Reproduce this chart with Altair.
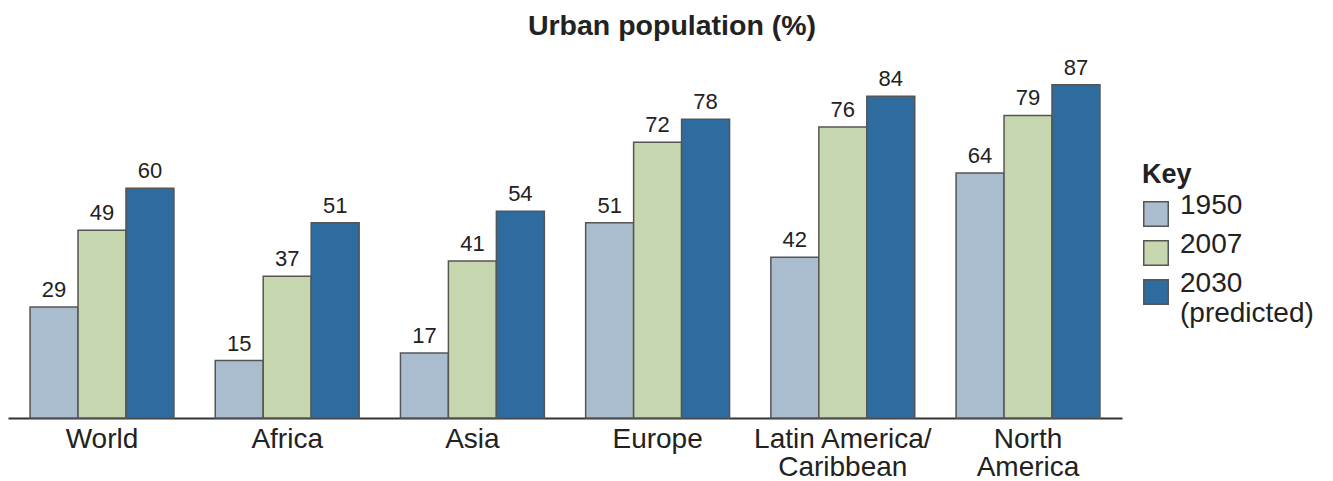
import altair as alt
import pandas as pd

regions = ["World", "Africa", "Asia", "Europe", "Latin America/Caribbean", "North America"]
years = ["1950", "2007", "2030"]
v1950 = [29, 15, 17, 51, 42, 64]
v2007 = [49, 37, 41, 72, 76, 79]
v2030 = [60, 51, 54, 78, 84, 87]
colors = ["#aabdcf", "#c6d6ae", "#2e6b9e"]

rows = []
for yr, vals in zip(years, [v1950, v2007, v2030]):
    for r, v in zip(regions, vals):
        rows.append({"region": r, "year": yr, "value": v})
df = pd.DataFrame(rows)

FONT = "Liberation Sans"
label_expr = ("datum.label == 'Latin America/Caribbean' ? ['Latin America/', 'Caribbean'] : "
              "datum.label == 'North America' ? ['North', 'America'] : datum.label")

x = alt.X(
    "region:N", sort=regions,
    scale=alt.Scale(paddingInner=0.223, paddingOuter=0.119),
    axis=alt.Axis(title=None, labelAngle=0, ticks=False, domainColor="#333", domainWidth=2,
                  labelFontSize=28, labelColor="#222", labelPadding=7, labelLineHeight=28,
                  labelFont=FONT, labelExpr=label_expr),
)
xo = alt.XOffset("year:N", sort=years, scale=alt.Scale(paddingInner=0, paddingOuter=0))
y = alt.Y("value:Q", scale=alt.Scale(domain=[0, 100]), axis=None)

color = alt.Color(
    "year:N", sort=years,
    scale=alt.Scale(domain=years, range=colors),
    legend=alt.Legend(
        title="Key", orient="none", legendX=1134, legendY=127,
        titleFontSize=27, titleFontWeight="bold", titleColor="#222", titleFont=FONT,
        labelFontSize=28, labelColor="#222", labelFont=FONT,
        symbolType="square", symbolSize=600, symbolStrokeColor="#555",
        symbolStrokeWidth=1.5, symbolOpacity=1, rowPadding=1, labelOffset=10,
        titlePadding=11, labelBaseline="alphabetic",
        labelExpr="datum.label == '2030' ? ['2030', '(predicted)'] : datum.label",
    ),
)

bars = alt.Chart(df).mark_bar(stroke="#555", strokeWidth=1.5).encode(
    x=x, xOffset=xo, y=y, color=color
)
texts = alt.Chart(df).mark_text(baseline="bottom", dy=-5, fontSize=22, color="#222", font=FONT).encode(
    x=x, xOffset=xo, y=y, text="value:Q"
)

chart = alt.layer(bars, texts).properties(
    width=1114, height=383,
    title=alt.Title("Urban population (%)", fontSize=28.5, fontWeight="bold", font=FONT,
                    color="#222", anchor="middle", frame="group", dx=107, dy=28, offset=-6,
                    baseline="bottom"),
    autosize=alt.AutoSizeParams(type="none"),
    padding={"left": 0, "top": 27, "right": 203, "bottom": 75},
).configure_view(stroke=None)

chart.save("out.html", embed_options={"renderer": "svg", "actions": False})
